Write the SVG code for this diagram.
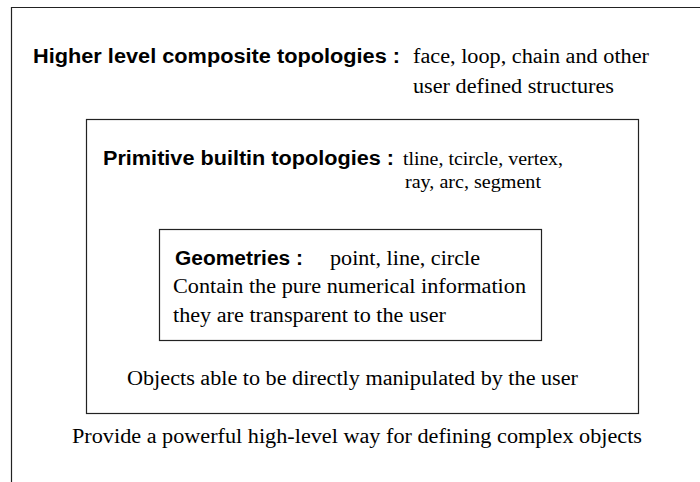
<svg xmlns="http://www.w3.org/2000/svg" width="700" height="482" viewBox="0 0 700 482">
  <style>
    .frame { fill: none; stroke: #222; stroke-width: 1.2; }
    .head { font-family: "Liberation Sans", Arial, sans-serif; font-weight: bold; font-size: 19.5px; fill: #000; }
    .body { font-family: "Liberation Serif", "Times New Roman", serif; font-size: 20px; fill: #000; }
    .small { font-size: 18px; }
  </style>
  <rect width="700" height="482" fill="#fff"/>

  <!-- outermost level: composite topologies (frame runs off the page) -->
  <g id="composite">
    <path class="frame" d="M11.5 490 V7.5 H710"/>
    <text class="head" x="33" y="63" textLength="367" lengthAdjust="spacingAndGlyphs">Higher level composite topologies :</text>
    <text class="body" x="413" y="63" textLength="236" lengthAdjust="spacingAndGlyphs">face, loop, chain and other</text>
    <text class="body" x="413" y="93" textLength="201" lengthAdjust="spacingAndGlyphs">user defined structures</text>
    <text class="body" x="72" y="443" textLength="570" lengthAdjust="spacingAndGlyphs">Provide a powerful high-level way for defining complex objects</text>
  </g>

  <!-- middle level: primitive builtin topologies -->
  <g id="primitive">
    <rect class="frame" x="86.5" y="119.5" width="552" height="294"/>
    <text class="head" x="103" y="165" textLength="291" lengthAdjust="spacingAndGlyphs">Primitive builtin topologies :</text>
    <text class="body small" x="403" y="165" textLength="160" lengthAdjust="spacingAndGlyphs">tline, tcircle, vertex,</text>
    <text class="body small" x="405" y="188" textLength="136" lengthAdjust="spacingAndGlyphs">ray, arc, segment</text>
    <text class="body" x="127" y="385" textLength="451" lengthAdjust="spacingAndGlyphs">Objects able to be directly manipulated by the user</text>
  </g>

  <!-- innermost level: geometries -->
  <g id="geometries">
    <rect class="frame" x="159.5" y="229.5" width="382" height="111"/>
    <text class="head" x="175" y="265" textLength="128" lengthAdjust="spacingAndGlyphs">Geometries :</text>
    <text class="body" x="330" y="265" textLength="150" lengthAdjust="spacingAndGlyphs">point, line, circle</text>
    <text class="body" x="173" y="293" textLength="353" lengthAdjust="spacingAndGlyphs">Contain the pure numerical information</text>
    <text class="body" x="173" y="322" textLength="273" lengthAdjust="spacingAndGlyphs">they are transparent to the user</text>
  </g>

  <g id="connectors"/>
</svg>
